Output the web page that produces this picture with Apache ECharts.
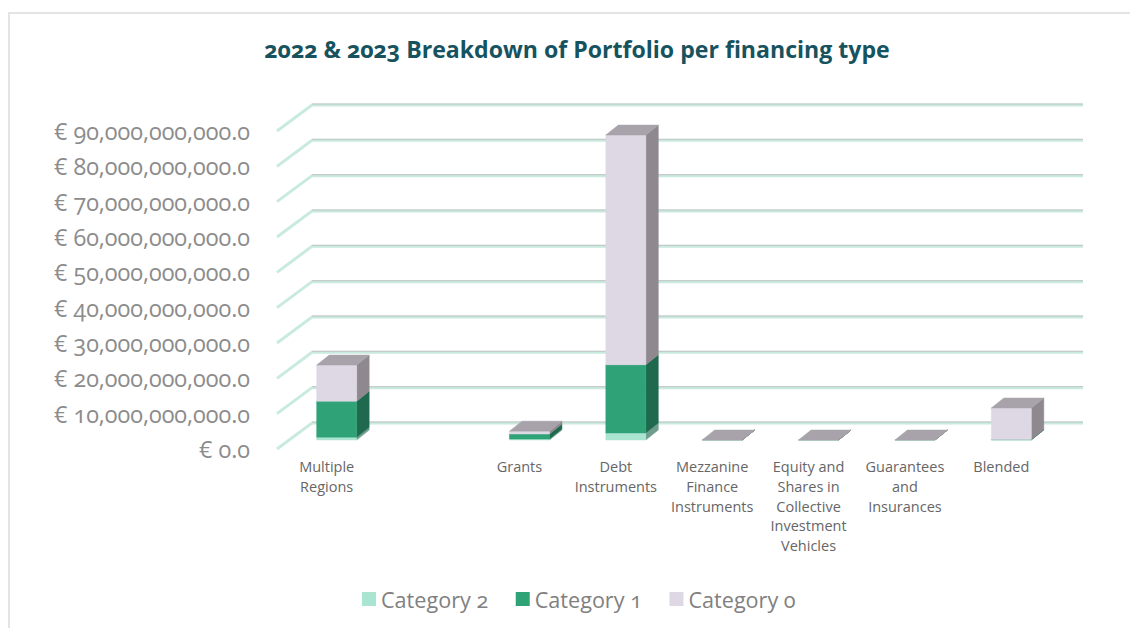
<!DOCTYPE html>
<html>
<head>
<meta charset="utf-8">
<script src="https://cdn.jsdelivr.net/npm/echarts@6/dist/echarts.min.js"></script>
<style>
  html, body { margin: 0; background: #fff; overflow: hidden; }
  #frame { position: absolute; left: 8px; top: 12px; width: 1130px; height: 640px; border: 2px solid #e4e4e4; }
  #chart { position: absolute; left: 0; top: 0; width: 1130px; height: 628px; }
  #chart text { font-variant-numeric: oldstyle-nums; font-feature-settings: "onum" 1; }
</style>
</head>
<body>
<div id="frame"></div>
<div id="chart"></div>
<script>
const categories = ['Multiple\nRegions', '', 'Grants', 'Debt\nInstruments', 'Mezzanine\nFinance\nInstruments',
  'Equity and\nShares in\nCollective\nInvestment\nVehicles', 'Guarantees\nand\nInsurances', 'Blended'];
// Values in euro. The second category is blank in the original.
const category2 = [0.8e9, null, 0.3e9, 2e9, 0, 0, 0, 0.05e9];
const category1 = [10.2e9, null, 1.4e9, 19.3e9, 0, 0, 0, 0.1e9];
const category0 = [10.2e9, null, 0.8e9, 65e9, 0, 0, 0, 8.9e9];
const yTicks = [0, 10e9, 20e9, 30e9, 40e9, 50e9, 60e9, 70e9, 80e9, 90e9];

const FONT = '"Open Sans", sans-serif';
// Fake 3D: how far the back wall and the bars recede from the front plane
const WALL_DX = 35;
const WALL_DY = -26;
const BAR_DX = 12.5;
const BAR_DY = -10;
const BAR_SHIFT_X = -8.5;
const BAR_SHIFT_Y = -9;

const poly = (points, fill, stroke) => ({
  type: 'polygon',
  shape: { points },
  style: { fill, stroke: stroke || fill, lineWidth: stroke ? 1 : 0.5 },
});

const renderWall = (params, api) => {
  const cs = params.coordSys;
  const y = api.coord([0, api.value(1)])[1];
  const points = [
    [cs.x, y],
    [cs.x + WALL_DX, y + WALL_DY],
    [cs.x + cs.width + WALL_DX, y + WALL_DY],
  ];
  return {
    type: 'group',
    children: [
      { type: 'polyline', shape: { points }, style: { fill: 'none', stroke: '#c8eadf', lineWidth: 3 } },
      {
        type: 'line',
        shape: { x1: points[1][0], y1: points[1][1] - 1, x2: points[2][0], y2: points[2][1] - 1 },
        style: { stroke: '#c4c4c4', lineWidth: 1 },
      },
    ],
  };
};

const renderSegment = (colors, withTop) => (params, api) => {
  const w = api.size([1, 0])[0] * 0.415;
  const idx = api.value(0);
  const low = api.coord([idx, api.value(2)]);
  const high = api.coord([idx, api.value(2) + api.value(1)]);
  const x0 = low[0] + BAR_SHIFT_X;
  const x1 = x0 + w;
  const y0 = low[1] + BAR_SHIFT_Y;
  const y1 = high[1] + BAR_SHIFT_Y;
  const children = [
    poly([[x1, y0], [x1 + BAR_DX, y0 + BAR_DY], [x1 + BAR_DX, y1 + BAR_DY], [x1, y1]], colors.side),
    poly([[x0, y0], [x1, y0], [x1, y1], [x0, y1]], colors.front),
  ];
  if (withTop) {
    children.push(poly([[x0, y1], [x1, y1], [x1 + BAR_DX, y1 + BAR_DY], [x0 + BAR_DX, y1 + BAR_DY]], '#a8a3aa'));
  }
  return { type: 'group', children };
};

const chart = echarts.init(document.getElementById('chart'), null, { renderer: 'svg' });

// Stack base of each category, low to high
const toRows = (values, below) =>
  values
    .map((v, i) => [i, v, below.reduce((sum, arr) => sum + (arr[i] || 0), 0)])
    .filter((row) => row[1] !== null);

const segment = (name, values, below, colors, withTop) => ({
  name,
  type: 'custom',
  renderItem: renderSegment(colors, withTop),
  encode: { x: 0, y: 1 },
  itemStyle: { color: colors.front },
  data: toRows(values, below),
  z: 3,
});

chart.setOption({
  animation: false,
  title: {
    text: '2022 & 2023 Breakdown of Portfolio per financing type',
    left: 572,
    top: 32,
    textAlign: 'center',
    textStyle: { fontFamily: FONT, fontWeight: 'bold', fontSize: 23.1, color: '#17535f' },
  },
  legend: {
    data: ['Category 2', 'Category 1', 'Category 0'],
    left: 357,
    top: 583,
    itemWidth: 14,
    itemHeight: 14,
    itemGap: 27,
    icon: 'rect',
    textStyle: { fontFamily: FONT, fontSize: 21.6, color: '#808080' },
  },
  grid: { left: 277, top: 131, width: 771, height: 318 },
  xAxis: {
    type: 'category',
    data: categories,
    axisLine: { show: false },
    axisTick: { show: false },
    axisLabel: {
      interval: 0,
      margin: 8,
      padding: [0, 0, 0, 3],
      color: '#666',
      fontFamily: FONT,
      fontSize: 14.5,
      lineHeight: 19.7,
    },
  },
  yAxis: {
    type: 'value',
    min: 0,
    max: 90e9,
    interval: 10e9,
    splitLine: { show: false },
    axisLine: { show: false },
    axisTick: { show: false },
    axisLabel: {
      margin: 27,
      padding: [0, 0, 4, 0],
      color: '#8c8c8c',
      fontFamily: FONT,
      fontSize: 23.3,
      formatter: (v) => '€ ' + v.toLocaleString('en-US') + '.0',
    },
  },
  series: [
    {
      name: 'walls',
      type: 'custom',
      renderItem: renderWall,
      encode: { x: 0, y: 1 },
      data: yTicks.map((t) => [0, t]),
      z: 1,
      silent: true,
    },
    segment('Category 2', category2, [], { front: '#a9e5d0', side: '#6f9c8d' }, false),
    segment('Category 1', category1, [category2], { front: '#2fa277', side: '#1f6a4f' }, false),
    segment('Category 0', category0, [category2, category1], { front: '#ded8e4', side: '#8f898f' }, true),
  ],
});
</script>
</body>
</html>
